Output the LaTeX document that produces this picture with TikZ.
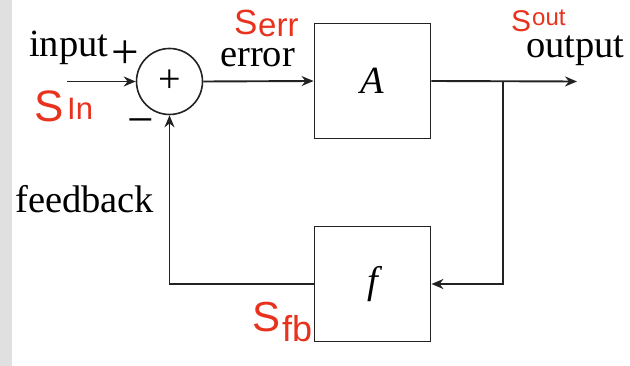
\documentclass[tikz,border=0pt]{standalone}
\usepackage{fontspec}
\setmainfont{Liberation Serif}
\newfontfamily\handfont{Liberation Sans}
\usetikzlibrary{arrows.meta}
\definecolor{annot}{HTML}{E8321E}
\definecolor{strip}{HTML}{E0E0E0}
\definecolor{ink}{HTML}{222222}
\tikzset{
  wire/.style={draw=ink, line width=1.9pt, line join=miter},
  arr/.style={wire, -{Stealth[length=12pt,width=10pt]}},
  blockbox/.style={draw=ink, line width=1.9pt, minimum width=116pt, minimum height=115pt, inner sep=0pt},
  lbl/.style={font=\fontsize{38.5}{40}\selectfont, inner sep=0pt, anchor=base west},
  sign/.style={font=\fontsize{49}{51}\selectfont, inner sep=0pt, anchor=center},
  redtxt/.style={text=annot, inner sep=0pt, anchor=base west}
}
\begin{document}
\begin{tikzpicture}[x=1pt,y=-1pt]
\useasboundingbox (0,0) rectangle (630,366);
\fill[strip] (0,0) rectangle (12,366);
% summing junction
\node[draw=ink, circle, line width=1.6pt, minimum size=66pt, inner sep=0pt,
      font=\fontsize{40}{42}\selectfont] (sum) at (169.5,81.5) {+};
% blocks
\node[blockbox, font=\fontsize{38.5}{40}\selectfont\itshape] (A) at (372.5,81) {\raisebox{-3pt}{A}};
\node[blockbox, font=\fontsize{38.5}{40}\selectfont\itshape] (F) at (372.5,284) {\raisebox{-3pt}{f}};
% coordinates
\coordinate (in) at (67,81.5);
\coordinate (out) at (577,81.5);
\coordinate (br) at (503,81.5);
\coordinate (brd) at (503,284);
\coordinate (fbc) at (169.5,284);
% wires
\draw[arr] (in) -- (sum.west);
\draw[arr] (sum.east) -- (A.west);
\draw[arr] (A.east) -- (out);
\draw[arr] (br) -- (brd) -- (F.east);
\draw[arr] (F.west) -- (fbc) -- (sum.south);
% labels
\node[lbl] (tin) at (29,57) {input};
\node[sign] (tplus) at (125,54.5) {+};
\node[sign, font=\fontsize{47}{49}\selectfont] (tminus) at (140.5,127) {\textminus};
\node[lbl, text height=20pt] (terr) at (220,67) {error};
\node[lbl, text height=22pt] (tout) at (526,58) {output};
\node[lbl] (tfb) at (15,213) {feedback};
% red annotations
\node[redtxt, font=\handfont\fontsize{44}{46}\selectfont] (sin) at (34,122) {S};
\node[redtxt, font=\handfont\fontsize{31}{33}\selectfont] (sinsub) at (67,120) {In};
\node[redtxt, font=\handfont\fontsize{35}{37}\selectfont] (serr) at (234,35) {S};
\node[redtxt, font=\handfont\fontsize{33}{35}\selectfont] (serrsub) at (258,37) {err};
\node[redtxt, font=\handfont\fontsize{30}{32}\selectfont] (sout) at (511,32) {S};
\node[redtxt, font=\handfont\fontsize{24}{26}\selectfont] (soutsub) at (532,26) {out};
\node[redtxt, font=\handfont\fontsize{42}{44}\selectfont] (sfb) at (252,332) {S};
\node[redtxt, font=\handfont\fontsize{36}{38}\selectfont] (sfbsub) at (282,342) {fb};
\end{tikzpicture}
\end{document}
